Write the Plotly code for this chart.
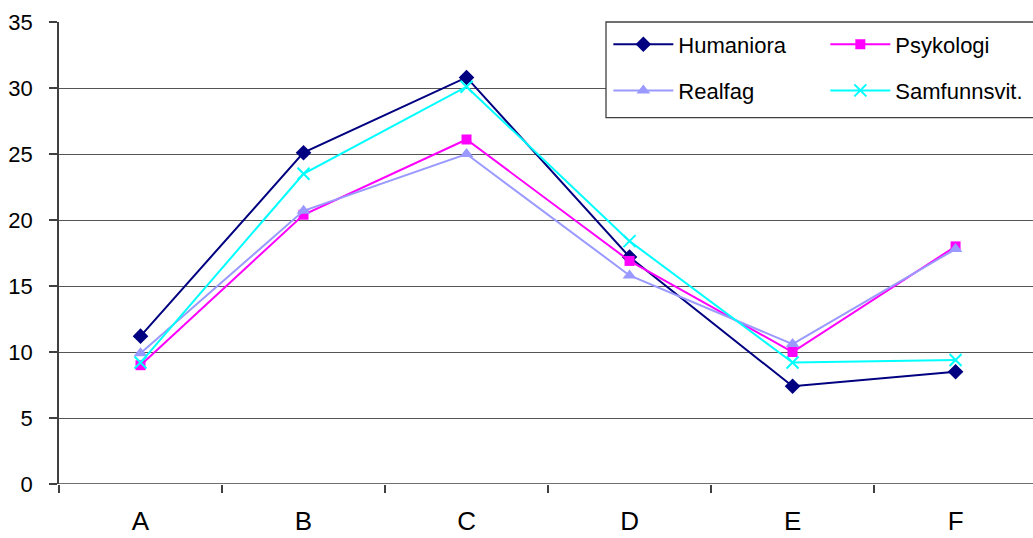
import plotly.graph_objects as go

categories = ["A", "B", "C", "D", "E", "F"]
humaniora = [11.2, 25.1, 30.8, 17.2, 7.4, 8.5]
psykologi = [9.0, 20.4, 26.1, 16.9, 10.0, 18.0]
realfag = [9.9, 20.7, 25.0, 15.8, 10.6, 17.8]
samfunnsvit = [9.2, 23.5, 30.1, 18.4, 9.2, 9.4]
y_ticks = [0, 5, 10, 15, 20, 25, 30, 35]

FONT = "Liberation Sans, Arial, sans-serif"
xpos = list(range(len(categories)))

series = [
    ("Humaniora", humaniora, "#000080", dict(symbol="diamond", size=12, color="#000080"), "legend"),
    ("Psykologi", psykologi, "#FF00FF", dict(symbol="square", size=10, color="#FF00FF"), "legend"),
    ("Realfag", realfag, "#9999FF", dict(symbol="triangle-up", size=12, color="#9999FF"), "legend2"),
    ("Samfunnsvit.", samfunnsvit, "#00FFFF",
     dict(symbol="x-thin", size=12, color="#00FFFF", line=dict(color="#00FFFF", width=2)), "legend2"),
]

fig = go.Figure()
for name, vals, col, mk, lg in series:
    fig.add_trace(go.Scatter(
        x=xpos, y=vals, name=name, mode="lines+markers",
        line=dict(color=col, width=2), marker=mk, legend=lg,
    ))

# invisible trace carrying the category-boundary tick marks
fig.add_trace(go.Scatter(x=[0], y=[0], xaxis="x2", showlegend=False,
                         mode="markers", marker=dict(opacity=0), hoverinfo="skip"))

xr = [-0.5, 5.475]
legend_common = dict(orientation="h", xanchor="left", yanchor="top",
                     entrywidth=142, entrywidthmode="pixels", bgcolor="rgba(0,0,0,0)",
                     font=dict(size=22, family=FONT), itemwidth=60)
fig.update_layout(
    width=1033, height=538,
    margin=dict(l=59, r=0, t=22, b=54, autoexpand=False),
    paper_bgcolor="white", plot_bgcolor="white",
    font=dict(family=FONT, size=22, color="black"),
    xaxis=dict(range=xr, tickvals=xpos, ticktext=categories, ticks="",
               showgrid=False, zeroline=False, showline=False,
               ticklabelstandoff=19, tickfont=dict(size=26)),
    xaxis2=dict(range=xr, overlaying="x", side="bottom",
                tickvals=[-0.5, 0.5, 1.5, 2.5, 3.5, 4.5, 5.5], showticklabels=False,
                ticks="outside", ticklen=8, tickcolor="#404040", tickwidth=1.5,
                showgrid=False, zeroline=False, showline=False),
    yaxis=dict(range=[0, 35], tickvals=y_ticks, ticks="outside", ticklen=8,
               tickcolor="#404040", tickwidth=1.5,
               showgrid=True, gridcolor="#555555", gridwidth=1.3,
               zeroline=False, showline=True, linecolor="#404040", linewidth=1.5,
               ticklabelstandoff=12, tickfont=dict(size=22)),
    legend=dict(x=0.564, y=0.997, **legend_common),
    legend2=dict(x=0.564, y=0.897, **legend_common),
    shapes=[dict(type="rect", xref="paper", yref="paper",
                 x0=0.5616, x1=1.01, y0=0.793, y1=1.0,
                 fillcolor="white", line=dict(color="#404040", width=1.3),
                 layer="above")],
)

# x axis baseline at zero
fig.add_shape(type="line", xref="paper", yref="y", x0=0, x1=1, y0=0, y1=0,
              line=dict(color="#404040", width=1.5), layer="below")

fig.write_html("out.html")
